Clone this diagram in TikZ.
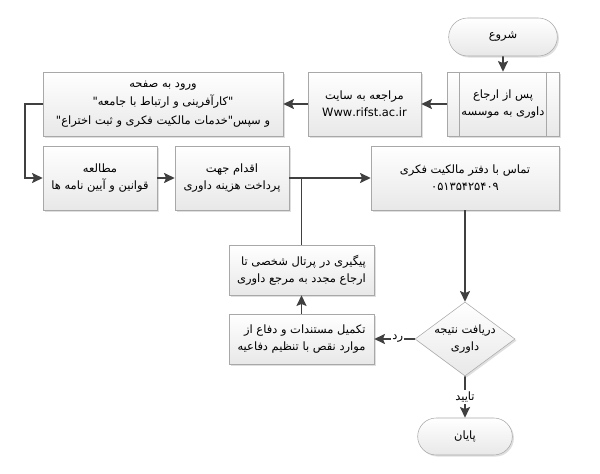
\documentclass[tikz,border=0pt]{standalone}
\usepackage{fontspec}
\usetikzlibrary{arrows.meta,shapes.geometric,shapes.misc,shadows}
\TeXXeTstate=1
\newfontfamily\arabicfont[Script=Arabic]{DejaVu Sans}
\definecolor{linegray}{HTML}{404040}
\definecolor{boxline}{HTML}{A8A8A8}
\tikzset{
  box size/.style 2 args={minimum width=#1*0.75pt,minimum height=#2*0.75pt},
  flowbox/.style={rectangle,draw=boxline,top color=white,bottom color=gray!18,
    drop shadow={opacity=0.25,shadow xshift=1.2pt,shadow yshift=-1.2pt},
    font=\arabicfont\fontsize{8.6}{13}\selectfont,align=center,inner sep=2pt},
  terminal/.style={flowbox,rounded rectangle},
  decision/.style={flowbox,diamond,aspect=1.35,inner sep=-2pt},
  arr/.style={-{Stealth[length=8pt,width=7.5pt,inset=1.5pt]},draw=linegray,line width=1.3pt},
  link/.style={draw=linegray,line width=1.3pt},
  lbl/.style={fill=white,inner sep=1pt,font=\arabicfont\fontsize{8.6}{11}\selectfont}
}
\begin{document}
\begin{tikzpicture}[x=0.75pt,y=-0.75pt]
\useasboundingbox (0,0) rectangle (600,474);
% upper row
\node[terminal,box size={114}{38}] (start) at (503,37) {\beginR شروع\endR};
\node[flowbox,box size={112}{64}] (refer) at (503,104) {\beginR پس از ارجاع\endR\\\beginR داوری به موسسه\endR};
\node[flowbox,box size={113}{64}] (site) at (364.5,104) {\beginR مراجعه به سایت\endR\\Www.rifst.ac.ir};
\node[flowbox,box size={240}{64},font=\arabicfont\fontsize{8.6}{14}\selectfont] (page) at (163,104) {\beginR ورود به صفحه\endR\\\beginR"کارآفرینی و ارتباط با جامعه"\endR\\\beginR و سپس"خدمات مالکیت فکری و ثبت اختراع"\endR};
\draw[boxline] ([xshift=9.75pt]refer.north west) -- ([xshift=9.75pt]refer.south west);
\draw[boxline] ([xshift=-9.75pt]refer.north east) -- ([xshift=-9.75pt]refer.south east);
% middle row
\node[flowbox,box size={114}{64}] (study) at (100,178) {\beginR مطالعه\endR\\\beginR قوانین و آیین نامه ها\endR};
\node[flowbox,box size={114}{64}] (pay) at (232,178) {\beginR اقدام جهت\endR\\\beginR پرداخت هزینه داوری\endR};
\node[flowbox,box size={188}{64}] (office) at (465,178) {\beginR تماس با دفتر مالکیت فکری\endR\\۰۵۱۳۵۴۲۵۴۰۹};
% lower part
\node[flowbox,box size={145}{50},align=right] (follow) at (301.5,270) {\beginR پیگیری در پرتال شخصی تا\endR\\\beginR ارجاع مجدد به مرجع داوری\endR};
\node[flowbox,box size={145}{50},align=right] (defend) at (301.5,339) {\beginR تکمیل مستندات و دفاع از\endR\\\beginR موارد نقص با تنظیم دفاعیه\endR};
\node[decision,box size={100}{74}] (result) at (465,339) {\beginR دریافت نتیجه\endR\\\beginR داوری\endR};
\node[terminal,box size={100}{37}] (finish) at (465,436.5) {\beginR پایان\endR};

\draw[arr] (start) -- (refer);
\draw[arr] (refer) -- (site);
\draw[arr] (site) -- (page);
\draw[arr] (page.west) -- ++(-18,0) |- (study.west);
\draw[arr] (study) -- (pay);
\draw[arr] (pay) -- (office);
\draw[link] (follow.north) -- (follow.north |- pay.east);
\draw[arr] (office) -- (result);
\draw[arr] (result) -- node[lbl,pos=0.42]{\beginR رد\endR} (defend);
\draw[arr] (defend) -- (follow);
\draw[arr] (result) -- node[lbl,pos=0.5]{\beginR تایید\endR} (finish);
\end{tikzpicture}
\end{document}
